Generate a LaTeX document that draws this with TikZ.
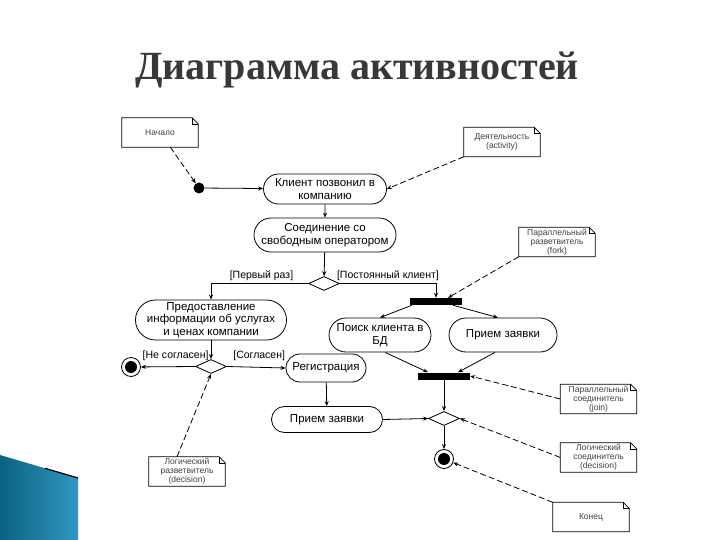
\documentclass[tikz,border=0pt]{standalone}
\usepackage{fontspec}
\setmainfont{Liberation Sans}
\newfontfamily\titlefont{Liberation Serif}
\usetikzlibrary{shapes.misc,shapes.geometric,arrows.meta}
\definecolor{tealdark}{RGB}{12,98,128}
\definecolor{teallight}{RGB}{48,152,192}
\begin{document}
\begin{tikzpicture}[x=1pt,y=-1pt,
  act/.style={rounded rectangle, draw, line width=0.8pt, align=center, inner sep=1pt, font=\fontsize{11.5}{12.5}\selectfont},
  notebox/.style={minimum width=76pt, minimum height=29pt, inner sep=0pt, align=center, font=\fontsize{8.5}{9.2}\selectfont, text=black!75},
  dec/.style={diamond, draw, line width=0.8pt, minimum width=31pt, minimum height=14pt, inner sep=0pt},
  bar/.style={fill=black, minimum width=52pt, minimum height=7pt, inner sep=0pt},
  arr/.style={line width=0.8pt, -{Stealth[length=5pt,width=4pt]}},
  darr/.style={arr, dash pattern=on 6pt off 3pt},
  guard/.style={font=\fontsize{10.5}{12}\selectfont, inner sep=1pt}
]
\useasboundingbox (0,0) rectangle (720,540);
\fill[white] (0,0) rectangle (720,540);

% decoration
\shade[left color=tealdark, right color=teallight] (0,455) -- (78,478) -- (78,540) -- (0,540) -- cycle;
\draw[line width=1.2pt] (45,468.3) -- (78,478);

% title
\node[font=\titlefont\bfseries\fontsize{40}{44}\selectfont, text=black!78] (title) at (357,70) {Диаграмма активностей};

% notes
\node[notebox] (nachalo) at (160,132.5) {Начало};
\node[notebox] (deyat) at (502,142) {Деятельность\\(activity)};
\node[notebox] (forknote) at (557,242) {Параллельный\\разветвитель\\(fork)};
\node[notebox] (joinnote) at (598.5,399) {Параллельный\\соединитель\\(join)};
\node[notebox] (djoin) at (598.5,457.5) {Логический\\соединитель\\(decision)};
\node[notebox] (konec) at (591,517) {Конец};
\node[notebox] (dsplit) at (187,471.5) {Логический\\разветвитель\\(decision)};
\foreach \n in {nachalo,deyat,forknote,joinnote,djoin,konec,dsplit}{
  \draw[line width=0.8pt] (\n.north west) -- ([xshift=-6pt]\n.north east) -- ([yshift=-6pt]\n.north east) -- (\n.south east) -- (\n.south west) -- cycle;
  \draw[line width=0.5pt] ([xshift=-6pt]\n.north east) -- ([xshift=-6pt,yshift=-6pt]\n.north east) -- ([yshift=-6pt]\n.north east);
}

% activity nodes
\node[circle, fill=black, minimum size=11pt, inner sep=0pt] (start) at (199,188) {};
\node[act, minimum width=125pt, minimum height=30pt] (klient) at (325,189) {Клиент позвонил в\\компанию};
\node[act, minimum width=144pt, minimum height=34pt] (soed) at (325,235) {Соединение со\\свободным оператором};
\node[dec] (d1) at (324,283.5) {};
\node[act, minimum width=144pt, minimum height=40pt] (predost) at (211,320) {Предоставление\\информации об услугах\\и ценах компании};
\node[bar] (fork) at (436,301.5) {};
\node[act, minimum width=104pt, minimum height=34pt] (poisk) at (380,335) {Поиск клиента в\\БД};
\node[act, minimum width=110pt, minimum height=34pt] (priem) at (503,335) {Прием заявки};
\node[bar] (join) at (444,376) {};
\node[dec] (d3) at (211,366.5) {};
\node[circle, draw, line width=0.8pt, minimum size=19pt, inner sep=0pt] (end1) at (131,367) {};
\fill (end1) circle[radius=6pt];
\node[act, minimum width=82pt, minimum height=28pt] (reg) at (326,368) {Регистрация};
\node[act, minimum width=113pt, minimum height=26pt] (priem2) at (327,419.5) {Прием заявки};
\node[dec] (d2) at (444,418.5) {};
\node[circle, draw, line width=0.8pt, minimum size=19pt, inner sep=0pt] (end2) at (444,459) {};
\fill (end2) circle[radius=6pt];

% flows
\draw[arr] (start) -- (klient);
\draw[arr] (klient) -- (soed);
\draw[arr] (soed) -- (d1);
\draw[arr] (d1.west) -| node[guard, pos=0.24, above=1pt] {[Первый раз]} (predost.north);
\draw[arr] (d1.east) -| node[guard, pos=0.25, above=1pt] {[Постоянный клиент]} (fork.north);
\draw[arr] ([xshift=-24pt]fork.south) -- (poisk.north);
\draw[arr] ([xshift=17pt]fork.south) -- ([xshift=-5pt]priem.north);
\draw[arr] ([xshift=5pt]poisk.south) -- ([xshift=-16pt]join.north);
\draw[arr] ([xshift=-8pt]priem.south) -- ([xshift=14pt]join.north);
\draw[arr] (join.south) -- (d2.north);
\draw[arr] (d2.south) -- (end2);
\draw[arr] (predost.south) -- (d3.north);
\draw[arr] (d3.west) -- node[guard, pos=0.36, above=5pt] {[Не согласен]} (end1);
\draw[arr] (d3.east) -- node[guard, pos=0.55, above=5pt] {[Согласен]} (reg.west);
\draw[arr] (reg) -- (priem2);
\draw[arr] (priem2.east) -- (d2.west);

% note links
\draw[darr] (nachalo) -- (start);
\draw[darr] (deyat.south west) -- (klient.east);
\draw[darr] (forknote.south west) -- ([xshift=12pt]fork.north);
\draw[darr] (joinnote.west) -- (join.east);
\draw[darr] (djoin.west) -- (d2.east);
\draw[darr] (konec.north west) -- (end2);
\draw[darr] ([xshift=-10pt]dsplit.north) -- (d3.south);
\end{tikzpicture}
\end{document}
